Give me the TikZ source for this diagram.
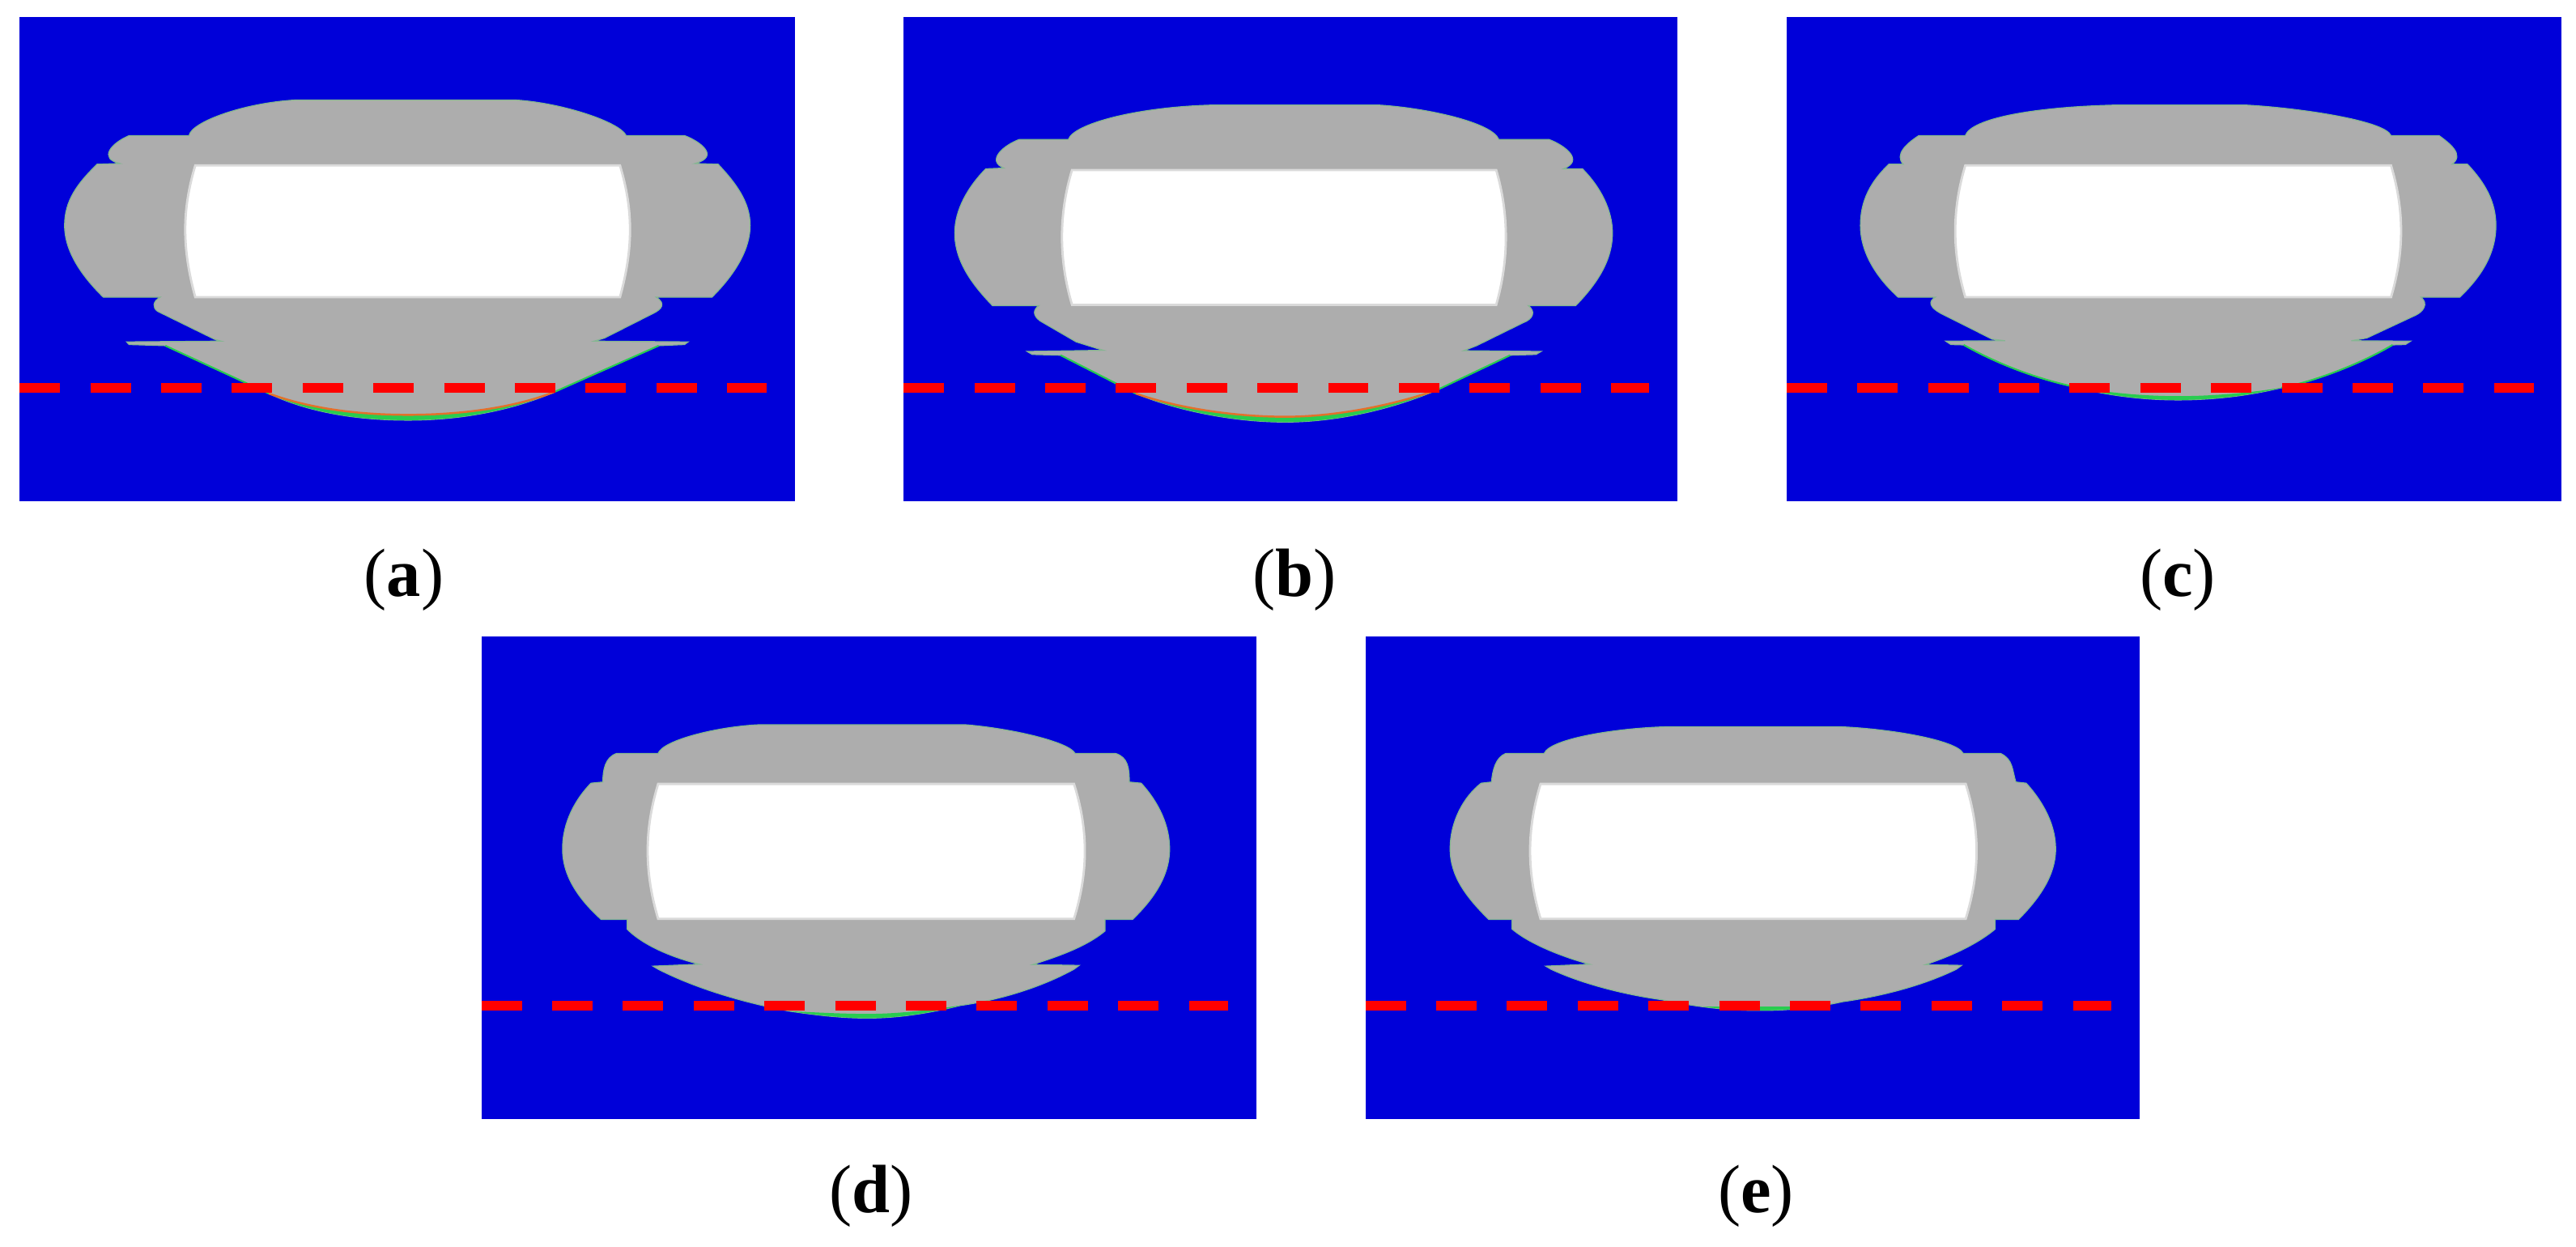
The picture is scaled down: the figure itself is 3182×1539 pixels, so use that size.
\documentclass[tikz,border=0pt]{standalone}
\usepackage{fontspec}
\setmainfont{Liberation Serif}
\definecolor{fieldblue}{HTML}{0000D9}
\definecolor{solidgray}{HTML}{ADADAD}
\definecolor{rimgreen}{HTML}{28CC50}
\definecolor{rimorange}{HTML}{E4702A}
\tikzset{
  field/.style={fill=fieldblue},
  solid body/.style={fill=solidgray, draw=solidgray!70!rimgreen, line width=0.35pt},
  hole/.style={fill=white, draw=solidgray!45, line width=0.8pt},
  rim/.style={fill=rimgreen},
  rim line/.style={draw=rimorange, line width=0.7pt},
  flank line/.style={draw=rimgreen, line width=0.6pt},
  cut line/.style={draw=red, line width=3.4pt, dash pattern=on 14.2pt off 10.65pt},
  caption/.style={font=\fontsize{24pt}{28pt}\selectfont, inner sep=0pt},
  panel/.style={x=0.0063776cm, y=-0.004719cm}
}
\begin{document}
\begin{tikzpicture}[x=0.01cm, y=-0.01cm]
\useasboundingbox (0,0) rectangle (3182,1539);

% panel a
\begin{scope}[shift={(0,0)}, panel]
\fill[field] (38,45) rectangle (1538,1313);
\path[solid body] (570,262) -- (1000,262) .. controls (1090,270) and (1200,320) .. (1212,355) -- (1325,355)
  .. controls (1355,370) and (1395,410) .. (1345,428) -- (1390,430)
  .. controls (1425,480) and (1452,530) .. (1452,590) .. controls (1452,650) and (1425,715) .. (1378,778) -- (1270,778)
  .. controls (1290,795) and (1280,810) .. (1265,820) -- (1170,885) -- (1150,893) -- (1332,895) -- (1325,902) -- (1275,905)
  -- (1075,1025) .. controls (1000,1070) and (900,1100) .. (790,1100) .. controls (680,1100) and (590,1075) .. (520,1030)
  -- (320,905) -- (250,902) -- (245,895) -- (428,893) -- (415,888) -- (305,815)
  .. controls (295,805) and (295,790) .. (310,778) -- (200,778)
  .. controls (160,725) and (125,660) .. (125,590) .. controls (125,525) and (150,480) .. (188,430) -- (232,428)
  .. controls (190,415) and (215,375) .. (250,355) -- (366,355) .. controls (370,320) and (470,270) .. (570,262) -- cycle;
\path[hole] (378,433) -- (1200,433) .. controls (1226,550) and (1226,650) .. (1200,778) -- (378,778) .. controls (352,650) and (352,550) .. (378,433) -- cycle;
\fill[rim] (1075,1025) .. controls (1000,1070) and (900,1100) .. (790,1100) .. controls (680,1100) and (590,1075) .. (520,1030)
  .. controls (590,1065) and (680,1086) .. (790,1086) .. controls (900,1086) and (1000,1065) .. (1075,1025) -- cycle;
\path[rim line] (520,1030) .. controls (590,1065) and (680,1086) .. (790,1086) .. controls (900,1086) and (1000,1065) .. (1075,1025);
\draw[flank line] (1275,905) -- (1075,1025) (520,1030) -- (320,905);
\draw[cut line] (38,1015) -- (1484,1015);
\end{scope}
\node[caption] (capa) at (499,716) {(\textbf{a})};

% panel b
\begin{scope}[shift={(1090,0)}, panel]
\fill[field] (41,45) rectangle (1538,1313);
\path[solid body] (640,275) -- (960,275) .. controls (1050,282) and (1180,320) .. (1193,365) -- (1290,365)
  .. controls (1320,380) and (1360,420) .. (1318,442) -- (1355,442)
  .. controls (1390,490) and (1413,550) .. (1413,610) .. controls (1413,680) and (1385,740) .. (1342,800) -- (1250,800)
  .. controls (1265,815) and (1260,835) .. (1240,845) -- (1150,905) -- (1125,918) -- (1275,920) -- (1265,928) -- (1215,930)
  -- (1075,1020) .. controls (990,1070) and (880,1105) .. (780,1105) .. controls (680,1105) and (570,1075) .. (490,1030)
  -- (345,930) -- (290,928) -- (280,920) -- (428,917) -- (415,912) -- (375,895) -- (305,840)
  .. controls (290,825) and (292,810) .. (303,800) -- (213,800)
  .. controls (170,740) and (140,680) .. (140,610) .. controls (140,550) and (165,490) .. (200,442) -- (235,440)
  .. controls (200,420) and (235,380) .. (265,365) -- (360,365) .. controls (370,325) and (490,280) .. (640,275) -- cycle;
\path[hole] (367,445) -- (1188,445) .. controls (1213,560) and (1213,680) .. (1188,798) -- (367,798) .. controls (341,680) and (341,560) .. (367,445) -- cycle;
\fill[rim] (1075,1020) .. controls (990,1070) and (880,1105) .. (780,1105) .. controls (680,1105) and (570,1075) .. (490,1030)
  .. controls (570,1068) and (680,1091) .. (780,1091) .. controls (880,1091) and (990,1060) .. (1075,1020) -- cycle;
\path[rim line] (490,1030) .. controls (570,1068) and (680,1091) .. (780,1091) .. controls (880,1091) and (990,1060) .. (1075,1020);
\draw[flank line] (1215,930) -- (1075,1020) (490,1030) -- (345,930);
\draw[cut line] (41,1015) -- (1484,1015);
\end{scope}
\node[caption] (capb) at (1599,716) {(\textbf{b})};

% panel c
\begin{scope}[shift={(2180,0)}, panel]
\fill[field] (42,45) rectangle (1542,1313);
\path[solid body] (680,275) -- (930,275) .. controls (1030,282) and (1200,315) .. (1212,355) -- (1305,355)
  .. controls (1325,375) and (1355,405) .. (1330,430) -- (1360,430)
  .. controls (1395,480) and (1415,530) .. (1415,590) .. controls (1415,660) and (1390,720) .. (1345,778) -- (1270,778)
  .. controls (1285,795) and (1275,815) .. (1260,825) -- (1165,885) -- (1135,892) -- (1250,893) -- (1240,902) -- (1215,903)
  .. controls (1150,955) and (1060,1000) .. (1000,1015) .. controls (940,1035) and (870,1047) .. (800,1047)
  .. controls (730,1047) and (660,1035) .. (590,1010) .. controls (510,985) and (440,945) .. (385,903)
  -- (360,902) -- (350,893) -- (465,892) -- (440,888) -- (340,820)
  .. controls (320,805) and (315,790) .. (330,778) -- (258,778)
  .. controls (215,725) and (185,660) .. (185,590) .. controls (185,525) and (205,475) .. (240,430) -- (268,430)
  .. controls (250,405) and (275,375) .. (298,355) -- (388,355) .. controls (400,310) and (520,280) .. (680,275) -- cycle;
\path[hole] (388,433) -- (1212,433) .. controls (1238,550) and (1238,660) .. (1212,778) -- (388,778) .. controls (362,660) and (362,550) .. (388,433) -- cycle;
\fill[rim] (1000,1015) .. controls (940,1035) and (870,1047) .. (800,1047) .. controls (730,1047) and (660,1035) .. (590,1010)
  .. controls (660,1028) and (730,1037) .. (800,1037) .. controls (870,1037) and (940,1028) .. (1000,1015) -- cycle;
\draw[flank line] (1215,903) .. controls (1150,955) and (1060,1000) .. (1000,1015) (590,1010) .. controls (510,985) and (440,945) .. (385,903);
\draw[cut line] (42,1015) -- (1489,1015);
\end{scope}
\node[caption] (capc) at (2690,716) {(\textbf{c})};

% panel d
\begin{scope}[shift={(580,770)}, panel]
\fill[field] (23,33) rectangle (1523,1298);
\path[solid body] (560,265) -- (960,265) .. controls (1050,275) and (1160,310) .. (1172,340) -- (1250,340)
  .. controls (1275,350) and (1277,380) .. (1277,415) -- (1300,418)
  .. controls (1335,470) and (1355,530) .. (1355,590) .. controls (1355,660) and (1325,720) .. (1283,775) -- (1230,775)
  -- (1230,805) .. controls (1190,850) and (1130,875) .. (1090,893) -- (1180,895) -- (1170,905)
  .. controls (1110,950) and (1030,985) .. (950,1000) .. controls (890,1020) and (830,1033) .. (770,1033)
  .. controls (720,1033) and (670,1025) .. (620,1015) .. controls (520,990) and (430,950) .. (365,905)
  -- (355,897) -- (445,892) .. controls (380,870) and (330,835) .. (305,800)
  -- (305,775) -- (255,775)
  .. controls (210,720) and (180,660) .. (180,590) .. controls (180,520) and (205,460) .. (235,418) -- (258,415)
  .. controls (258,385) and (262,350) .. (285,340) -- (365,340) .. controls (375,305) and (480,270) .. (560,265) -- cycle;
\path[hole] (365,420) -- (1170,420) .. controls (1198,540) and (1198,650) .. (1170,773) -- (365,773) .. controls (338,650) and (338,540) .. (365,420) -- cycle;
\fill[rim] (950,1000) .. controls (890,1020) and (830,1033) .. (770,1033) .. controls (720,1033) and (670,1025) .. (620,1015)
  .. controls (670,1018) and (720,1022) .. (770,1022) .. controls (830,1022) and (890,1012) .. (950,1000) -- cycle;
\draw[cut line] (23,1000) -- (1469,1000);
\end{scope}
\node[caption] (capd) at (1076,1477) {(\textbf{d})};

% panel e
\begin{scope}[shift={(1670,770)}, panel]
\fill[field] (26,33) rectangle (1524,1298);
\path[solid body] (620,270) -- (940,270) .. controls (1040,275) and (1170,305) .. (1183,340) -- (1255,340)
  .. controls (1280,355) and (1278,385) .. (1285,415) -- (1305,418)
  .. controls (1340,470) and (1362,530) .. (1362,590) .. controls (1362,660) and (1330,720) .. (1290,775) -- (1245,775)
  -- (1245,800) .. controls (1205,845) and (1150,875) .. (1110,893) -- (1180,895) -- (1170,905)
  .. controls (1110,945) and (1030,975) .. (950,990) .. controls (900,1005) and (850,1013) .. (790,1013)
  .. controls (720,1013) and (660,1002) .. (600,985) .. controls (520,970) and (440,940) .. (385,905)
  -- (375,897) -- (460,892) .. controls (400,870) and (340,835) .. (310,800)
  -- (310,775) -- (265,775)
  .. controls (220,715) and (190,660) .. (190,590) .. controls (190,520) and (215,455) .. (250,418) -- (270,415)
  .. controls (272,385) and (278,350) .. (298,340) -- (372,340) .. controls (385,300) and (520,272) .. (620,270) -- cycle;
\path[hole] (365,420) -- (1188,420) .. controls (1216,540) and (1216,650) .. (1188,773) -- (365,773) .. controls (338,650) and (338,540) .. (365,420) -- cycle;
\fill[rim] (900,1003) .. controls (860,1010) and (830,1013) .. (790,1013) .. controls (750,1013) and (720,1010) .. (680,1003) -- cycle;
\draw[cut line] (26,1000) -- (1469,1000);
\end{scope}
\node[caption] (cape) at (2169,1477) {(\textbf{e})};
\end{tikzpicture}
\end{document}
